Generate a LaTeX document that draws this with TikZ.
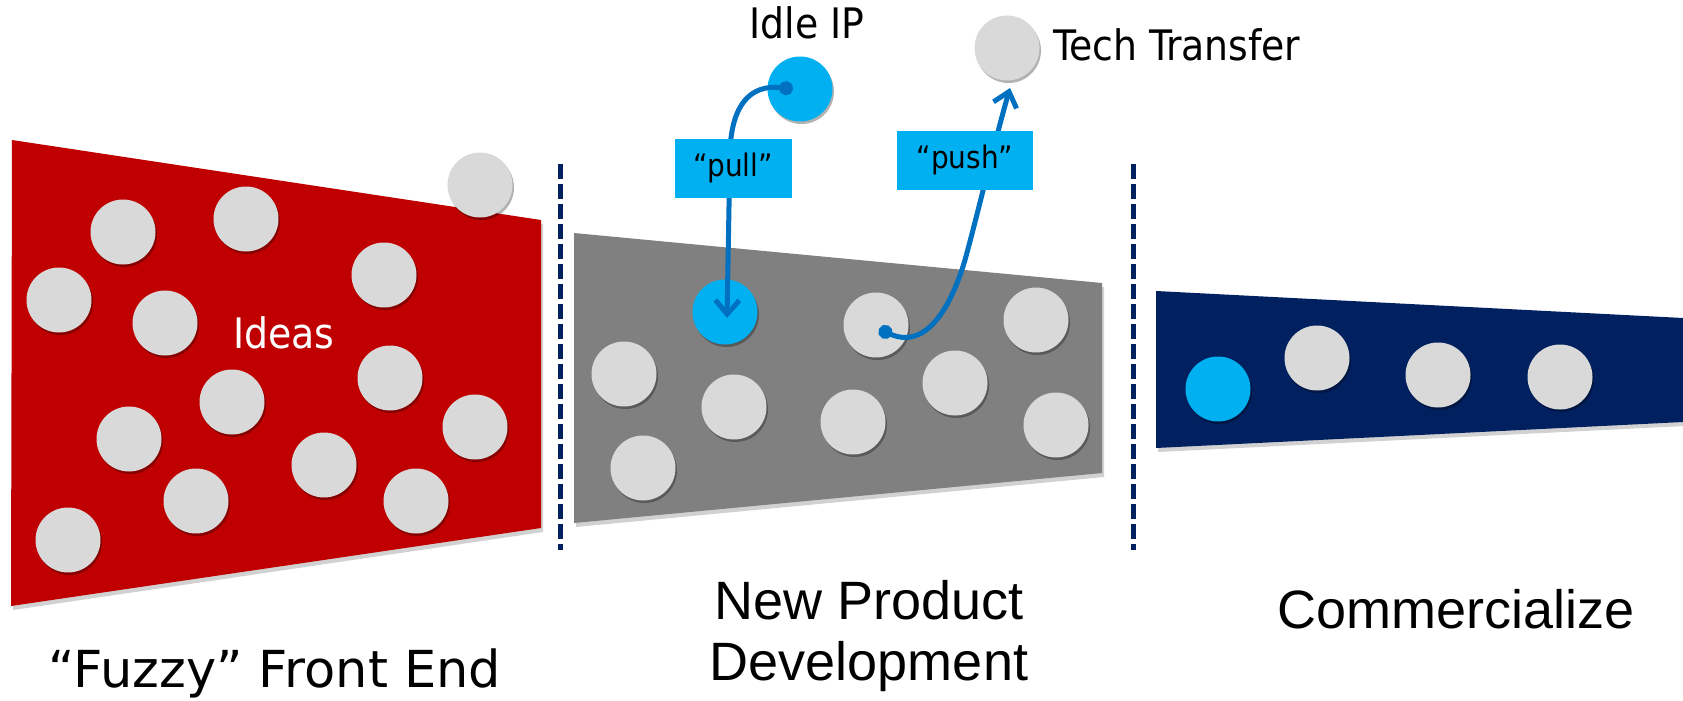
\documentclass[tikz,border=0pt]{standalone}
\usepackage{fontspec}
\setmainfont{Liberation Sans}
\newfontfamily\tahoma{DejaVu Sans Condensed}
\newfontfamily\verdana{DejaVu Sans}
\usetikzlibrary{arrows.meta,shadows}

\definecolor{fuzzyred}{HTML}{C00000}
\definecolor{devgray}{HTML}{808080}
\definecolor{commnavy}{HTML}{002060}
\definecolor{ideagray}{HTML}{D9D9D9}
\definecolor{ipcyan}{HTML}{00B0F0}
\definecolor{flowblue}{HTML}{0070C0}

\begin{document}
\begin{tikzpicture}[x=1pt,y=-1pt,
  idea/.style={circle,fill=ideagray,minimum size=65pt,inner sep=0pt,
    drop shadow={shadow xshift=1.5pt,shadow yshift=-2.5pt,opacity=0.3,fill=black}},
  ip/.style={idea,fill=ipcyan},
  panelshadow/.style={fill=black,opacity=0.18,xshift=2pt,yshift=-4pt},
  gate/.style={draw=commnavy,line width=5pt,dash pattern=on 15pt off 5pt},
  flow/.style={draw=flowblue,line width=5pt,
    {Circle[length=14pt]}-{Straight Barb[length=14pt,width=24pt]}},
  tag/.style={fill=ipcyan,minimum height=59pt,inner sep=0pt,
    font=\tahoma\fontsize{31}{36}\selectfont},
  label/.style={inner sep=0pt,font=\tahoma\fontsize{42}{50}\selectfont},
  stage/.style={inner sep=0pt,align=center,anchor=base,font=\fontsize{54}{61}\selectfont}]
\useasboundingbox (0,0) rectangle (1683,701);

% the three stages
\fill[panelshadow] (12,140) -- (541,220) -- (541,528) -- (11,606) -- cycle;
\fill[fuzzyred] (12,140) -- (541,220) -- (541,528) -- (11,606) -- cycle;
\fill[panelshadow] (574,233) -- (1102,283) -- (1102,473) -- (574,523) -- cycle;
\fill[devgray] (574,233) -- (1102,283) -- (1102,473) -- (574,523) -- cycle;
\fill[panelshadow] (1156,291) -- (1683,318) -- (1683,422) -- (1156,448) -- cycle;
\fill[commnavy] (1156,291) -- (1683,318) -- (1683,422) -- (1156,448) -- cycle;

% stage gates
\draw[gate] (560,164) -- (560,550);
\draw[gate] (1133,164) -- (1133,550);

% ideas
\foreach \x/\y [count=\i] in {123/232,246/219,480/185,59/300,165/323,384/275,390/378,
  232/402,129/439,475/427,324/465,196/501,416/501,68/540}
  \node[idea] (f\i) at (\x,\y) {};
\foreach \x/\y [count=\i] in {876/325,1036/320,624/374,734/407,955/383,853/422,1056/425,643/468}
  \node[idea] (d\i) at (\x,\y) {};
\node[ip] (pulled) at (725,312) {};
\node[ip] (c1) at (1218,389) {};
\foreach \x/\y [count=\i from 2] in {1317/358,1438/375,1560/377}
  \node[idea] (c\i) at (\x,\y) {};
\node[ip] (idle) at (800,89) {};
\node[idea] (tech) at (1007,48) {};

% pull and push
\coordinate (pullstart) at (793,89);
\coordinate (pullend) at (727,318);
\coordinate (pushstart) at (879,329);
\coordinate (pushend) at (1010,88);
\draw[flow] (pullstart) .. controls (750,84) and (732,105) .. (730,150) -- (pullend);
\draw[flow] (pushstart) .. controls (925,350) and (950,310) .. (965,260)
  .. controls (980,205) and (995,140) .. (pushend);
\node[tag,minimum width=117pt] (pull) at (733,168) {“pull”};
\node[tag,minimum width=136pt] (push) at (965,160) {“push”};

% labels
\node[label,text=white,anchor=base] (ideas) at (284,348) {Ideas};
\node[label,anchor=base] (idlelabel) at (807,39) {Idle IP};
\node[label,anchor=base west] (techlabel) at (1053,61) {Tech Transfer};
\node[inner sep=0pt,anchor=base,font=\verdana\fontsize{51}{61}\selectfont] (fuzzylabel)
  at (275,687) {“Fuzzy” Front End};
\node[stage] (npdlabel) at (869,680) {New Product\\Development};
\node[stage] (commlabel) at (1456,628) {Commercialize};
\end{tikzpicture}
\end{document}
